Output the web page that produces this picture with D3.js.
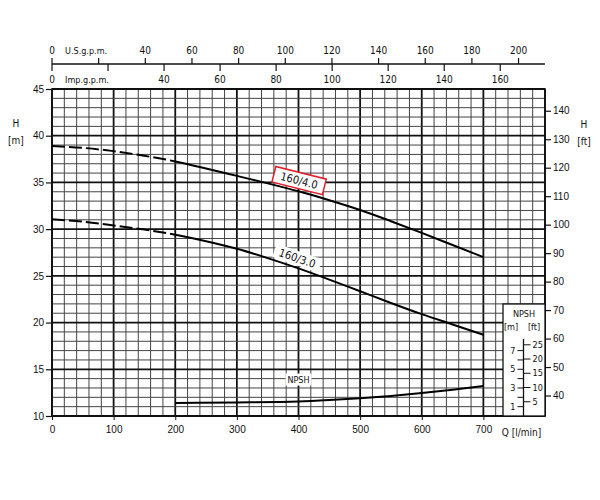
<!DOCTYPE html>
<html><head><meta charset="utf-8">
<script src="https://cdn.jsdelivr.net/npm/d3@7"></script>
<style>
body{margin:0;background:#fff;}
text{font-family:"DejaVu Sans Condensed","Liberation Sans",sans-serif;fill:#111;}
</style></head>
<body><svg id="c" width="600" height="500"></svg>
<script>
// ---- data ----
const flowQ = [0,50,100,150,200,250,300,350,400,450,500,550,600,650,700];
const head160_40 = [38.9,38.7,38.35,37.85,37.25,36.5,35.7,34.9,34.05,33.1,32.05,30.85,29.6,28.3,27.0];
const head160_30 = [31.05,30.8,30.4,29.95,29.4,28.7,27.9,26.9,25.8,24.6,23.35,22.1,20.9,19.8,18.7];
const npshQ = [200,300,400,450,500,550,600,650,700];
const npshM = [1.4,1.45,1.55,1.7,1.9,2.15,2.45,2.8,3.2];
const dashedUntilQ = 200;
const qTicks = [0,100,200,300,400,500,600,700];
const hTicksM = [10,15,20,25,30,35,40,45];
const hTicksFt = [40,50,60,70,80,90,100,110,120,130,140];
const usgpmTicks = [0,20,40,60,80,100,120,140,160,180,200];
const usgpmLabels = [0,40,60,80,100,120,140,160,180,200];
const impgpmTicks = [0,20,40,60,80,100,120,140,160];
const impgpmLabels = [0,40,60,80,100,120,140,160];
const npshMTicks = [1,2,3,4,5,6,7];
const npshMLabels = [1,3,5,7];
const npshFtTicks = [5,10,15,20,25];
const curveNames = ["160/4.0","160/3.0"];

// ---- scales ----
const svg = d3.select("#c");
const L=52, R=545, T=89, B=416;
const x = d3.scaleLinear().domain([0,800]).range([L,R]);
const y = d3.scaleLinear().domain([10,45]).range([B,T]);
const yFt = d3.scaleLinear().domain([10/0.3048,45/0.3048]).range([B,T]);
const yN = d3.scaleLinear().domain([0,35]).range([B,T]);
const xUS = d3.scaleLinear().domain([0,800/3.7854]).range([L,R]);
const xImp = d3.scaleLinear().domain([0,800/4.5461]).range([L,R]);

// ---- clip paths for dashed / solid parts ----
const defs = svg.append("defs");
defs.append("clipPath").attr("id","cDash").append("rect")
  .attr("x",0).attr("y",0).attr("width",x(dashedUntilQ)).attr("height",500);
defs.append("clipPath").attr("id","cSolid").append("rect")
  .attr("x",x(dashedUntilQ)).attr("y",0).attr("width",600).attr("height",500);

// ---- grid ----
const g = svg.append("g");
d3.range(0,801,20).forEach(q=>{
  const major = q%100===0;
  g.append("line").attr("x1",x(q)).attr("x2",x(q)).attr("y1",T).attr("y2",B)
   .attr("stroke",major?"#111":"#444").attr("stroke-width",major?1.8:1);
});
d3.range(10,46,1).forEach(h=>{
  const major = h%5===0;
  g.append("line").attr("x1",L).attr("x2",R).attr("y1",y(h)).attr("y2",y(h))
   .attr("stroke",major?"#111":"#444").attr("stroke-width",major?1.8:1);
});
g.append("rect").attr("x",L).attr("y",T).attr("width",R-L).attr("height",B-T)
 .attr("fill","none").attr("stroke","#111").attr("stroke-width",1.6);

// ---- left axis ----
const la = svg.append("g").attr("transform",`translate(${L},0)`)
 .call(d3.axisLeft(y).tickValues(hTicksM).tickSize(6).tickPadding(2));
la.select(".domain").remove();
la.selectAll("text").attr("font-size",10).style("font-family","inherit");
la.selectAll("line").attr("stroke","#111").attr("stroke-width",1.2);

// ---- right axis ----
const ra = svg.append("g").attr("transform",`translate(${R},0)`)
 .call(d3.axisRight(yFt).tickValues(hTicksFt).tickSize(6).tickPadding(2));
ra.select(".domain").remove();
ra.selectAll("text").attr("font-size",10).style("font-family","inherit");
ra.selectAll("line").attr("stroke","#111").attr("stroke-width",1.2);

// ---- bottom axis ----
const ba = svg.append("g").attr("transform",`translate(0,${B})`)
 .call(d3.axisBottom(x).tickValues(qTicks).tickSize(4).tickPadding(6));
ba.select(".domain").remove();
ba.selectAll("text").attr("font-size",10).style("font-family","inherit");
ba.selectAll("line").attr("stroke","#111");
svg.append("text").attr("x",x(730)).attr("y",436).attr("font-size",10).text("Q [l/min]");

// ---- top axes ----
const TA=64;
svg.append("line").attr("x1",L).attr("x2",R).attr("y1",TA).attr("y2",TA).attr("stroke","#111").attr("stroke-width",1.4);
usgpmTicks.forEach(v=>svg.append("line").attr("x1",xUS(v)).attr("x2",xUS(v)).attr("y1",TA).attr("y2",TA-6).attr("stroke","#111").attr("stroke-width",1.2));
impgpmTicks.forEach(v=>svg.append("line").attr("x1",xImp(v)).attr("x2",xImp(v)).attr("y1",TA).attr("y2",TA+7).attr("stroke","#111").attr("stroke-width",1.2));
usgpmLabels.forEach(v=>svg.append("text").attr("x",xUS(v)).attr("y",54).attr("font-size",10).attr("text-anchor","middle").text(v));
impgpmLabels.forEach(v=>svg.append("text").attr("x",xImp(v)).attr("y",83).attr("font-size",10).attr("text-anchor","middle").text(v));
svg.append("text").attr("x",65).attr("y",54).attr("font-size",9).text("U.S.g.p.m.");
svg.append("text").attr("x",65).attr("y",83).attr("font-size",9).text("Imp.g.p.m.");

// ---- axis titles ----
svg.append("text").attr("x",16).attr("y",127).attr("font-size",10).attr("text-anchor","middle").text("H");
svg.append("text").attr("x",16).attr("y",144).attr("font-size",10).attr("text-anchor","middle").text("[m]");
svg.append("text").attr("x",584).attr("y",128).attr("font-size",10).attr("text-anchor","middle").text("H");
svg.append("text").attr("x",584).attr("y",145).attr("font-size",10).attr("text-anchor","middle").text("[ft]");

// ---- curves ----
const line = d3.line().x(d=>x(d[0])).y(d=>y(d[1])).curve(d3.curveMonotoneX);
[head160_40, head160_30].forEach(h=>{
  const d = line(flowQ.map((q,i)=>[q,h[i]]));
  svg.append("path").attr("d",d).attr("fill","none").attr("stroke","#000")
    .attr("stroke-width",2).attr("stroke-dasharray","13,4").attr("clip-path","url(#cDash)");
  svg.append("path").attr("d",d).attr("fill","none").attr("stroke","#000")
    .attr("stroke-width",2).attr("clip-path","url(#cSolid)");
});
const nline = d3.line().x(d=>x(d[0])).y(d=>yN(d[1])).curve(d3.curveMonotoneX);
svg.append("path").attr("d",nline(npshQ.map((q,i)=>[q,npshM[i]]))).attr("fill","none")
  .attr("stroke","#000").attr("stroke-width",2);

// ---- curve labels ----
const l1 = svg.append("g").attr("transform",`translate(${x(401)},${y(35.2)}) rotate(14)`);
l1.append("rect").attr("x",-26).attr("y",-8).attr("width",52).attr("height",16)
  .attr("fill","#fff").attr("stroke","#e0202a").attr("stroke-width",1.5);
l1.append("text").attr("text-anchor","middle").attr("dy","0.36em").attr("font-size",11).text(curveNames[0]);
const l2 = svg.append("g").attr("transform",`translate(${x(398)},${y(26.9)}) rotate(19)`);
l2.append("rect").attr("x",-24).attr("y",-7).attr("width",48).attr("height",14).attr("fill","#fff");
l2.append("text").attr("text-anchor","middle").attr("dy","0.36em").attr("font-size",11).text(curveNames[1]);
const l3 = svg.append("g").attr("transform",`translate(${x(400)},${yN(3.9)})`);
l3.append("rect").attr("x",-13).attr("y",-6).attr("width",26).attr("height",12).attr("fill","#fff");
l3.append("text").attr("text-anchor","middle").attr("dy","0.36em").attr("font-size",9).text("NPSH");

// ---- NPSH inset ----
const ix=503, iy=304, ax=523.5;
svg.append("rect").attr("x",ix).attr("y",iy).attr("width",R-ix).attr("height",B-iy)
  .attr("fill","#fff").attr("stroke","#111").attr("stroke-width",1.3);
svg.append("text").attr("x",524).attr("y",317).attr("font-size",9).attr("text-anchor","middle").text("NPSH");
svg.append("text").attr("x",511).attr("y",330).attr("font-size",9).attr("text-anchor","middle").text("[m]");
svg.append("text").attr("x",534).attr("y",330).attr("font-size",9).attr("text-anchor","middle").text("[ft]");
svg.append("line").attr("x1",ax).attr("x2",ax).attr("y1",339).attr("y2",B).attr("stroke","#111").attr("stroke-width",1.3);
npshMTicks.forEach(v=>svg.append("line").attr("x1",ax-6).attr("x2",ax).attr("y1",yN(v)).attr("y2",yN(v)).attr("stroke","#111"));
npshMLabels.forEach(v=>svg.append("text").attr("x",ax-8).attr("y",yN(v)).attr("dy","0.35em").attr("font-size",9).attr("text-anchor","end").text(v));
npshFtTicks.forEach(v=>{
  const yy = yN(v*0.3048);
  svg.append("line").attr("x1",ax).attr("x2",ax+7).attr("y1",yy).attr("y2",yy).attr("stroke","#111");
  svg.append("text").attr("x",ax+9).attr("y",yy).attr("dy","0.35em").attr("font-size",9).text(v);
});
</script></body></html>
